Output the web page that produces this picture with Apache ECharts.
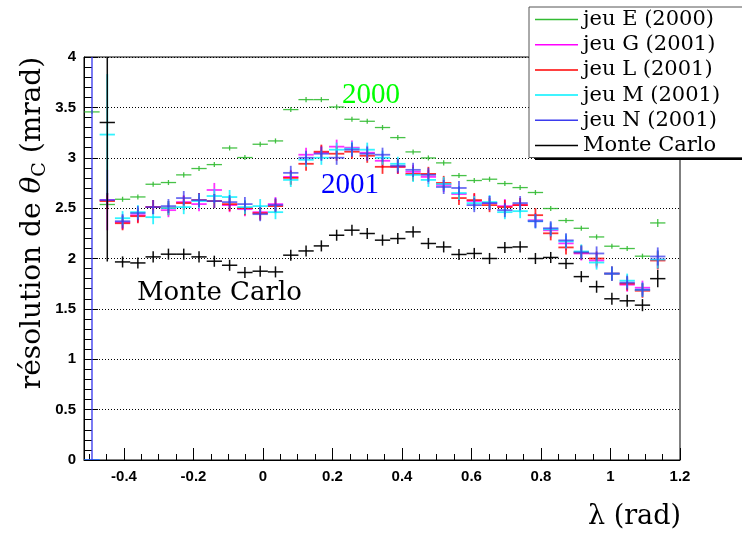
<!DOCTYPE html>
<html><head><meta charset="utf-8">
<script src="https://cdn.jsdelivr.net/npm/echarts@6.0.0/dist/echarts.min.js"></script>
<style>html,body{margin:0;padding:0;background:#fff}#c{width:742px;height:534px}</style>
</head><body><div id="c"></div>
<script>
// bin centres in lambda (rad)
const lambdaCenters = [-0.492,-0.448,-0.404,-0.360,-0.316,-0.272,-0.228,-0.184,-0.140,-0.096,-0.052,-0.008,0.036,0.080,0.124,0.168,0.212,0.256,0.300,0.344,0.388,0.432,0.476,0.520,0.564,0.608,0.652,0.696,0.740,0.784,0.828,0.872,0.916,0.960,1.004,1.048,1.092,1.136];
const binHalfWidth = 0.022;

const seriesNames = ['jeu E (2000)','jeu G (2001)','jeu L (2001)','jeu M (2001)','jeu N (2001)','Monte Carlo'];

const valuesE  = [3.455,2.536,2.588,2.611,2.737,2.754,2.830,2.893,2.932,3.097,3.002,3.134,3.167,3.478,3.577,3.577,3.504,3.382,3.362,3.300,3.200,3.058,2.998,2.949,2.823,2.774,2.787,2.744,2.704,2.655,2.496,2.377,2.300,2.214,2.122,2.099,2.023,2.353];
const errorsE  = [0.02,0.03,0.025,0.025,0.025,0.025,0.025,0.025,0.025,0.025,0.025,0.025,0.025,0.025,0.025,0.025,0.025,0.025,0.025,0.025,0.025,0.025,0.025,0.025,0.025,0.025,0.025,0.025,0.025,0.025,0.025,0.025,0.025,0.025,0.025,0.025,0.025,0.04];

const valuesG  = [null,2.58,2.36,2.43,2.51,2.48,2.56,2.54,2.68,2.53,2.49,2.46,2.54,2.81,3.03,3.05,3.11,3.10,3.05,2.97,2.91,2.86,2.81,2.73,2.64,2.57,2.55,2.52,2.53,2.38,2.28,2.15,2.05,1.98,1.85,1.74,1.71,1.99];
const errorsG  = [0,0.30,0.07,0.07,0.07,0.07,0.07,0.07,0.07,0.07,0.07,0.07,0.07,0.07,0.07,0.07,0.07,0.07,0.07,0.07,0.07,0.07,0.07,0.07,0.07,0.07,0.07,0.07,0.07,0.07,0.07,0.07,0.07,0.07,0.07,0.07,0.07,0.09];

const valuesL  = [null,2.57,2.35,2.42,2.51,2.50,2.55,2.58,2.57,2.54,2.50,2.45,2.52,2.80,2.94,3.06,3.04,3.06,3.02,2.91,2.91,2.84,2.84,2.75,2.60,2.58,2.53,2.51,2.53,2.43,2.25,2.11,2.06,2.00,1.85,1.75,1.68,1.98];
const errorsL  = [0,0.08,0.07,0.07,0.07,0.07,0.07,0.07,0.07,0.07,0.07,0.07,0.07,0.07,0.07,0.07,0.07,0.07,0.07,0.07,0.07,0.07,0.07,0.07,0.07,0.07,0.07,0.07,0.07,0.07,0.07,0.07,0.07,0.07,0.07,0.07,0.07,0.09];

const valuesM  = [0,3.23,2.40,2.46,2.41,2.50,2.51,2.57,2.62,2.61,2.51,2.52,2.46,2.78,2.98,3.00,3.08,3.09,3.08,3.00,2.94,2.83,2.78,2.74,2.65,2.55,2.56,2.46,2.47,2.37,2.29,2.17,2.07,1.96,1.85,1.78,1.69,1.99];
const errorsM  = [0,0.60,0.07,0.07,0.07,0.07,0.07,0.07,0.07,0.07,0.07,0.07,0.07,0.07,0.07,0.07,0.07,0.07,0.07,0.07,0.07,0.07,0.07,0.07,0.07,0.07,0.07,0.07,0.07,0.07,0.07,0.07,0.07,0.07,0.07,0.07,0.07,0.09];

const valuesN  = [0,2.58,2.37,2.45,2.51,2.52,2.60,2.58,2.57,2.56,2.54,2.44,2.53,2.85,3.00,3.04,3.00,3.08,3.04,3.03,2.92,2.88,2.83,2.71,2.70,2.53,2.55,2.48,2.55,2.37,2.30,2.18,2.06,2.05,1.85,1.76,1.69,2.02];
const errorsN  = [5,0.07,0.07,0.07,0.07,0.07,0.07,0.07,0.07,0.07,0.07,0.07,0.07,0.07,0.07,0.07,0.07,0.07,0.07,0.07,0.07,0.07,0.07,0.07,0.07,0.07,0.07,0.07,0.07,0.07,0.07,0.07,0.07,0.07,0.07,0.07,0.07,0.09];

const valuesMC = [null,3.35,1.966,1.956,2.016,2.043,2.043,2.016,1.973,1.933,1.861,1.874,1.867,2.033,2.075,2.125,2.231,2.281,2.248,2.182,2.198,2.264,2.149,2.115,2.040,2.050,2.000,2.109,2.115,2.000,2.010,1.950,1.820,1.720,1.600,1.580,1.537,1.800];
const errorsMC = [0,1.38,0.055,0.055,0.055,0.055,0.055,0.055,0.055,0.055,0.055,0.055,0.055,0.055,0.055,0.055,0.055,0.055,0.055,0.055,0.055,0.055,0.055,0.055,0.055,0.055,0.055,0.055,0.055,0.055,0.055,0.055,0.055,0.06,0.06,0.06,0.06,0.085];

const xMajorTicks = [-0.4,-0.2,0,0.2,0.4,0.6,0.8,1,1.2];
const xMinorTicks = [-0.5,-0.45,-0.35,-0.3,-0.25,-0.15,-0.1,-0.05,0.05,0.1,0.15,0.25,0.3,0.35,0.45,0.5,0.55,0.65,0.7,0.75,0.85,0.9,0.95,1.05,1.1,1.15];

const colors = ['#33bb33','#ff00ff','#ff0000','#00f0ff','#3b3bee','#000000'];
const widths = [1.3,1.8,1.8,1.8,1.8,1.5];
const opac   = [0.9,0.8,0.8,0.8,0.75,0.95];
const allValues = [valuesE,valuesG,valuesL,valuesM,valuesN,valuesMC];
const allErrors = [errorsE,errorsG,errorsL,errorsM,errorsN,errorsMC];

function buildData(vals, errs){
  const out = [];
  lambdaCenters.forEach((x,i)=>{ if(vals[i]!==null) out.push([x, vals[i], binHalfWidth, errs[i]]); });
  return out;
}

function makeRender(color, lw, op){
  return function(params, api){
    const x = api.value(0), y = api.value(1), ex = api.value(2), ey = api.value(3);
    const c = api.coord([x,y]);
    const l = api.coord([x-ex,y]), r = api.coord([x+ex,y]);
    const t = api.coord([x,y+ey]), b = api.coord([x,y-ey]);
    const st = {stroke:color, lineWidth:lw, opacity:op};
    return {type:'group', children:[
      {type:'line', shape:{x1:l[0],y1:c[1],x2:r[0],y2:c[1]}, style:st},
      {type:'line', shape:{x1:c[0],y1:t[1],x2:c[0],y2:b[1]}, style:st}
    ]};
  };
}

const series = seriesNames.map((name,i)=>({
  name, type:'custom', xAxisIndex:0, yAxisIndex:0, clip:true,
  itemStyle:{color:colors[i]},
  renderItem: makeRender(colors[i], widths[i], opac[i]),
  data: buildData(allValues[i], allErrors[i]),
  z: 2+i*0.01
}));

const serif = 'DejaVu Serif';
const sans = 'Liberation Sans';

const chart = echarts.init(document.getElementById('c'));
chart.setOption({
  animation:false,
  backgroundColor:'#fff',
  grid:{left:84, right:62, top:57, bottom:74, show:true, borderColor:'#000', borderWidth:1, backgroundColor:'transparent'},
  xAxis:[{
    type:'value', min:-0.515, max:1.2, position:'bottom',
    axisLine:{show:true, onZero:false, lineStyle:{color:'#000', width:1}},
    axisTick:{show:true, inside:true, length:12, customValues:xMajorTicks, lineStyle:{color:'#000'}},
    axisLabel:{show:true, customValues:xMajorTicks, margin:9, color:'#000', fontFamily:sans, fontWeight:'bold', fontSize:15,
      formatter:v=>String(Math.round(v*10)/10)},
    splitLine:{show:false}
  },{
    type:'value', min:-0.515, max:1.2, position:'bottom', gridIndex:0,
    axisLine:{show:false},
    axisTick:{show:true, inside:true, length:6, customValues:xMinorTicks, lineStyle:{color:'#000'}},
    axisLabel:{show:false},
    splitLine:{show:false}
  }],
  yAxis:{
    type:'value', min:0, max:4, interval:0.5,
    axisLine:{show:true, onZero:false, lineStyle:{color:'#000', width:1}},
    axisTick:{show:true, inside:true, length:14, lineStyle:{color:'#000'}},
    minorTick:{show:true, splitNumber:5, length:8, lineStyle:{color:'#000'}},
    axisLabel:{margin:8, color:'#000', fontFamily:sans, fontWeight:'bold', fontSize:15},
    splitLine:{show:true, lineStyle:{color:'#000', width:1, type:[1,2]}}
  },
  legend:{
    orient:'vertical', left:529, top:7, z:10,
    data:seriesNames, icon:'rect', itemWidth:43, itemHeight:1.5, itemGap:4.2,
    backgroundColor:'#fff', borderColor:'#555', borderWidth:1,
    padding:[2,40,1.5,6], selectedMode:false,
    textStyle:{fontFamily:serif, fontSize:21, lineHeight:21, color:'#000'}
  },
  graphic:{elements:[
    {type:'rect', z:9, shape:{x:535, y:11, width:260, height:149}, style:{fill:'#000'}},
    {type:'text', z:20, x:33, y:223, rotation:Math.PI/2,
      style:{text:'{a|résolution de }{i|θ}{s|C}{a| (mrad)}', align:'center', verticalAlign:'middle',
        rich:{a:{fontFamily:serif, fontSize:28, lineHeight:33, fill:'#000'},
              i:{fontFamily:serif, fontStyle:'italic', fontSize:28, lineHeight:33, fill:'#000'},
              s:{fontFamily:serif, fontSize:19, lineHeight:19, verticalAlign:'bottom', fill:'#000'}}}},
    {type:'text', z:20, x:681, y:517, style:{text:'λ (rad)', align:'right', verticalAlign:'middle', fontFamily:serif, fontSize:27, fill:'#000'}},
    {type:'text', z:20, x:371, y:95, style:{text:'2000', align:'center', verticalAlign:'middle', fontFamily:'Liberation Serif', fontSize:29, fill:'#00ff00'}},
    {type:'text', z:20, x:350, y:185, style:{text:'2001', align:'center', verticalAlign:'middle', fontFamily:'Liberation Serif', fontSize:29, fill:'#0000ff'}},
    {type:'text', z:20, x:137, y:293, style:{text:'Monte Carlo', align:'left', verticalAlign:'middle', fontFamily:serif, fontSize:26, fill:'#000'}}
  ]},
  series
});
</script></body></html>
